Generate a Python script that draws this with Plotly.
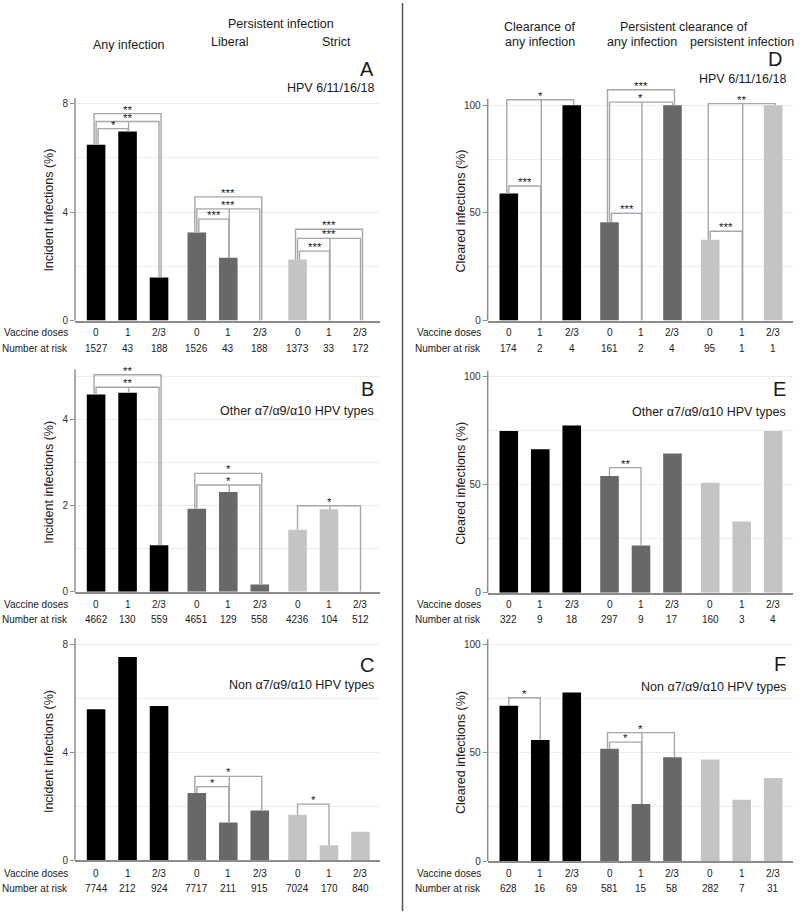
import plotly.graph_objects as go

W, H = 800, 921
FONT = "Liberation Sans, Arial, sans-serif"

# ---------------- data ----------------
positions = [0, 1, 2, 3.2, 4.2, 5.2, 6.4, 7.4, 8.4]
dose_labels = ["0", "1", "2/3", "0", "1", "2/3", "0", "1", "2/3"]
bar_colors = ["#000000"] * 3 + ["#686868"] * 3 + ["#c4c4c4"] * 3

A_values = [6.48, 6.97, 1.59, 3.25, 2.32, 0.0, 2.25, 0.0, 0.0]
A_at_risk = [1527, 43, 188, 1526, 43, 188, 1373, 33, 172]
A_brackets = [(0, 2, 7.63, "**", None), (0, 2, 7.34, "**", 1), (0, 1, 7.08, "*", None),
              (3, 5, 4.56, "***", None), (3, 5, 4.12, "***", 4), (3, 4, 3.74, "***", None),
              (6, 8, 3.37, "***", None), (6, 8, 3.03, "***", 7), (6, 7, 2.56, "***", None)]

B_values = [4.58, 4.62, 1.08, 1.93, 2.32, 0.17, 1.44, 1.92, 0.0]
B_at_risk = [4662, 130, 559, 4651, 129, 558, 4236, 104, 512]
B_brackets = [(0, 2, 5.04, "**", None), (0, 2, 4.75, "**", 1),
              (3, 5, 2.75, "*", None), (3, 5, 2.48, "*", 4),
              (6, 8, 2.0, "*", 7)]

C_values = [5.61, 7.55, 5.73, 2.50, 1.41, 1.85, 1.69, 0.56, 1.06]
C_at_risk = [7744, 212, 924, 7717, 211, 915, 7024, 170, 840]
C_brackets = [(3, 5, 3.12, "*", 4), (3, 4, 2.74, "*", None), (6, 7, 2.09, "*", None)]

D_values = [59.0, 0.0, 100.0, 45.7, 0.0, 100.0, 37.5, 0.0, 100.0]
D_at_risk = [174, 2, 4, 161, 2, 4, 95, 1, 1]
D_brackets = [(0, 2, 102.6, "*", 1), (0, 1, 62.5, "***", None),
              (3, 5, 107.2, "***", None), (3, 5, 101.5, "*", 4), (3, 4, 49.8, "***", None),
              (6, 8, 100.8, "**", 7), (6, 7, 41.5, "***", None)]

E_values = [74.8, 66.4, 77.4, 54.0, 21.9, 64.4, 50.9, 33.0, 74.8]
E_at_risk = [322, 9, 18, 297, 9, 17, 160, 3, 4]
E_brackets = [(3, 4, 57.9, "**", None)]

F_values = [71.8, 56.0, 77.9, 51.9, 26.4, 48.0, 46.9, 28.3, 38.4]
F_at_risk = [628, 16, 69, 581, 15, 58, 282, 7, 31]
F_brackets = [(0, 1, 75.5, "*", None), (3, 5, 59.4, "*", 4), (3, 4, 55.0, "*", None)]

# ---------------- layout config ----------------
XRANGE = [-0.67, 9.02]
PLOT_W = 305.0
PPX = PLOT_W / (XRANGE[1] - XRANGE[0])  # pixels per x unit

cols = [dict(x0=75.0, label_right=70.0, title_x=49.0, letter_right=376.0),
        dict(x0=487.7, label_right=482.7, title_x=461.0, letter_right=788.0)]

panels = [
    dict(letter="A", values=A_values, risk=A_at_risk, brackets=A_brackets, sub="HPV 6/11/16/18",
         ytitle="Incident infections (%)", dtick=4, minor=2, col=0, y0=322.7, ppu=27.3, top=8.2,
         axis_top=8.2, letter_y=69, sub_y=89, rows=(334.8, 350.7), title_y=212),
    dict(letter="B", values=B_values, risk=B_at_risk, brackets=B_brackets, sub="Other α7/α9/α10 HPV types",
         ytitle="Incident infections (%)", dtick=2, minor=1, col=0, y0=595.7, ppu=43.35, top=5.16,
         axis_top=5.16, letter_y=391.7, sub_y=413.3, rows=(608.3, 623.8), title_y=486),
    dict(letter="C", values=C_values, risk=C_at_risk, brackets=C_brackets, sub="Non α7/α9/α10 HPV types",
         ytitle="Incident infections (%)", dtick=4, minor=2, col=0, y0=866.0, ppu=27.1, top=8.25,
         axis_top=8.25, letter_y=669, sub_y=689.3, rows=(878.8, 894.2), title_y=757),
    dict(letter="D", values=D_values, risk=D_at_risk, brackets=D_brackets, sub="HPV 6/11/16/18",
         ytitle="Cleared infections (%)", dtick=50, minor=25, col=1, y0=322.7, ppu=2.167, top=110,
         axis_top=103, letter_y=59.3, sub_y=79.3, rows=(334.8, 350.7), title_y=213),
    dict(letter="E", values=E_values, risk=E_at_risk, brackets=E_brackets, sub="Other α7/α9/α10 HPV types",
         ytitle="Cleared infections (%)", dtick=50, minor=25, col=1, y0=596.7, ppu=2.177, top=102.5,
         axis_top=102.5, letter_y=391.7, sub_y=414.3, rows=(608.3, 623.8), title_y=487),
    dict(letter="F", values=F_values, risk=F_at_risk, brackets=F_brackets, sub="Non α7/α9/α10 HPV types",
         ytitle="Cleared infections (%)", dtick=50, minor=25, col=1, y0=866.7, ppu=2.177, top=102.6,
         axis_top=102.6, letter_y=668.3, sub_y=691.7, rows=(878.8, 894.2), title_y=758),
]

AXIS_COLOR = "#8c8c8c"
GRID_COLOR = "#ececec"
BRACKET_COLOR = "#a6a6a6"
TEXT_COLOR = "#1a1a1a"


def px(x):
    return x / W


def py(y):
    return 1 - y / H


fig = go.Figure()
shapes = []
annotations = []
layout_axes = {}

for n, p in enumerate(panels, start=1):
    c = cols[p["col"]]
    xa = "x" if n == 1 else f"x{n}"
    ya = "y" if n == 1 else f"y{n}"
    xkey = "xaxis" if n == 1 else f"xaxis{n}"
    ykey = "yaxis" if n == 1 else f"yaxis{n}"
    top_px = p["y0"] - p["top"] * p["ppu"]
    layout_axes[xkey] = dict(domain=[px(c["x0"]), px(c["x0"] + PLOT_W)], range=XRANGE,
                             anchor=ya, showline=True, linecolor=AXIS_COLOR, linewidth=1.5,
                             showticklabels=False, ticks="", showgrid=False, zeroline=False)
    layout_axes[ykey] = dict(domain=[py(p["y0"]), py(top_px)], range=[0, p["top"]], anchor=xa,
                             tickmode="linear", tick0=0, dtick=p["dtick"], ticks="outside",
                             ticklen=4, tickcolor=AXIS_COLOR, tickwidth=1,
                             tickfont=dict(size=10, color="#333333"),
                             showgrid=True, gridcolor=GRID_COLOR, gridwidth=1,
                             minor=dict(tickmode="linear", tick0=0, dtick=p["minor"], showgrid=True,
                                        gridcolor=GRID_COLOR, ticks=""),
                             zeroline=False, showline=False)

    fig.add_trace(go.Bar(x=positions, y=p["values"], width=0.59, marker=dict(color=bar_colors, line=dict(width=0)),
                         xaxis=xa, yaxis=ya, showlegend=False, hoverinfo="skip"))

    # y axis line (drawn only up to the axis top)
    shapes.append(dict(type="line", xref=f"{xa} domain", yref=f"{ya} domain", x0=0, x1=0,
                       y0=0, y1=p["axis_top"] / p["top"], line=dict(color=AXIS_COLOR, width=1.5)))

    # significance brackets
    vals = p["values"]
    groups = {}
    for b in p["brackets"]:
        groups.setdefault(b[0], []).append(b)
    for i0, blist in groups.items():
        blist = sorted(blist, key=lambda b: -b[2])
        nb = len(blist)
        for k, (i, j, h, lab, mid) in enumerate(blist):
            if nb == 1:
                dl = dr = 0.0
            else:
                dl = (-2 + 2 * k) / PPX
                dr = ((2 - 2 * k) / PPX) if (j - i) == 2 else 0.5 / PPX
            xl = positions[i] + dl
            xr = positions[j] + dr
            path = f"M {xl},{vals[i]} L {xl},{h} L {xr},{h} L {xr},{vals[j]}"
            shapes.append(dict(type="path", xref=xa, yref=ya, path=path,
                               line=dict(color=BRACKET_COLOR, width=1.4)))
            if mid is not None:
                xm = positions[mid] + 1.0 / PPX
                shapes.append(dict(type="line", xref=xa, yref=ya, x0=xm, x1=xm, y0=vals[mid], y1=h,
                                   line=dict(color=BRACKET_COLOR, width=1.4)))
            annotations.append(dict(xref=xa, yref=ya, x=(xl + xr) / 2, y=h, text=lab, showarrow=False,
                                    yanchor="middle", yshift=4.5, borderpad=0, height=7, valign="middle",
                                    font=dict(size=11.5, color="#222222")))

    # rows under the axis
    for x, d, r in zip(positions, dose_labels, p["risk"]):
        annotations.append(dict(xref=xa, yref="paper", x=x, y=py(p["rows"][0]), text=d, showarrow=False,
                                yanchor="middle", font=dict(size=10, color=TEXT_COLOR)))
        annotations.append(dict(xref=xa, yref="paper", x=x, y=py(p["rows"][1]), text=str(r), showarrow=False,
                                yanchor="middle", font=dict(size=10, color=TEXT_COLOR)))
    annotations.append(dict(xref="paper", yref="paper", x=px(c["label_right"]), y=py(p["rows"][0]),
                            text="Vaccine doses", showarrow=False, xanchor="right", yanchor="middle",
                            font=dict(size=10, color=TEXT_COLOR)))
    annotations.append(dict(xref="paper", yref="paper", x=px(c["label_right"]), y=py(p["rows"][1]),
                            text="Number at risk", showarrow=False, xanchor="right", yanchor="middle",
                            font=dict(size=10, color=TEXT_COLOR)))

    # axis title
    annotations.append(dict(xref="paper", yref="paper", x=px(c["title_x"]), y=py(p["title_y"]),
                            text=p["ytitle"], textangle=-90, showarrow=False, xanchor="center",
                            yanchor="middle", font=dict(size=12.5, color=TEXT_COLOR)))
    # panel letter and subtitle
    lr = c["letter_right"] - (4 if p["letter"] == "D" else 0)
    annotations.append(dict(xref="paper", yref="paper", x=px(lr), y=py(p["letter_y"]), text=p["letter"],
                            showarrow=False, xanchor="right", yanchor="middle",
                            font=dict(size=20, color=TEXT_COLOR)))
    annotations.append(dict(xref="paper", yref="paper", x=px(c["letter_right"]), y=py(p["sub_y"]), text=p["sub"],
                            showarrow=False, xanchor="right", yanchor="middle",
                            font=dict(size=12.5, color=TEXT_COLOR)))

# column headers
headers = [
    ("Persistent infection", 281, 24), ("Any infection", 128.5, 45), ("Liberal", 229.5, 42.7),
    ("Strict", 336.7, 42.7),
    ("Clearance of", 539.5, 26.7), ("any infection", 539.5, 42.3),
    ("Persistent clearance of", 684, 26.7), ("any infection", 642, 42.3),
    ("persistent infection", 741.5, 42.3),
]
for t, x, y in headers:
    annotations.append(dict(xref="paper", yref="paper", x=px(x), y=py(y), text=t, showarrow=False,
                            xanchor="center", yanchor="middle", font=dict(size=12.5, color=TEXT_COLOR)))

# divider line between the columns
shapes.append(dict(type="line", xref="paper", yref="paper", x0=px(402.5), x1=px(402.5), y0=py(3), y1=py(917),
                   line=dict(color="#555555", width=1.5)))

fig.update_layout(width=W, height=H, margin=dict(l=0, r=0, t=0, b=0), autosize=False,
                  paper_bgcolor="white", plot_bgcolor="white", showlegend=False,
                  font=dict(family=FONT, color=TEXT_COLOR), shapes=shapes, annotations=annotations,
                  **layout_axes)

fig.write_html("out.html", config={"displayModeBar": False},
               post_script="document.body.style.margin='0';document.body.style.overflow='hidden';")
